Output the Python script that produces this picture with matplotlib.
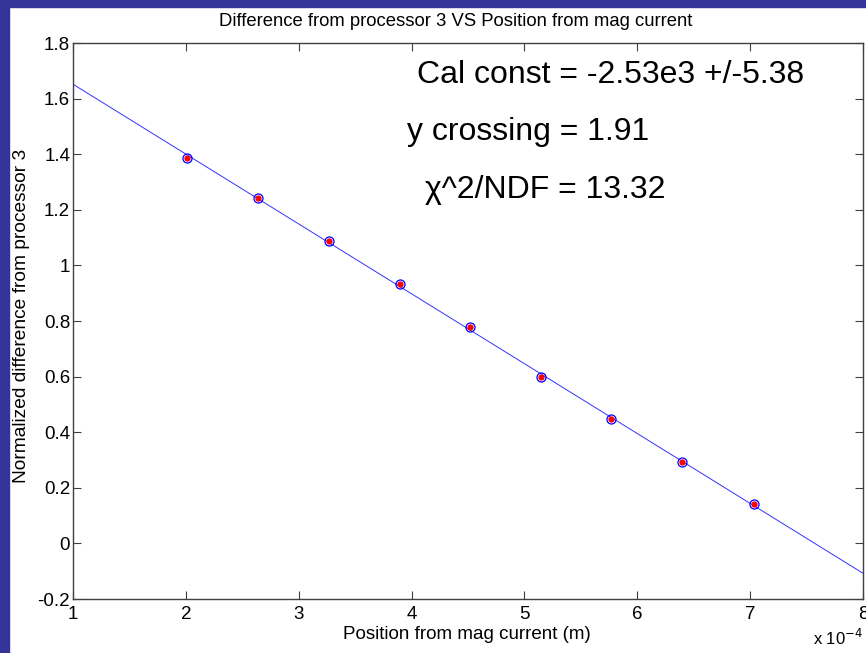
import numpy as np
import matplotlib
matplotlib.use('Agg')
import matplotlib.pyplot as plt
from matplotlib.ticker import FuncFormatter

plt.rcParams['font.family'] = ['Liberation Sans', 'DejaVu Sans']

# measured points (position in m, normalized difference)
pos_m = [2.01e-4, 2.64e-4, 3.27e-4, 3.90e-4, 4.52e-4, 5.15e-4, 5.77e-4, 6.40e-4, 7.03e-4]
diff_norm = [1.386, 1.242, 1.088, 0.933, 0.778, 0.599, 0.447, 0.293, 0.142]

# fit result
fit_slope = -2.513e3
fit_icept = 1.903
fit_x = [1e-4, 8e-4]

x_ticks = [1e-4, 2e-4, 3e-4, 4e-4, 5e-4, 6e-4, 7e-4, 8e-4]
y_ticks = [-0.2, 0, 0.2, 0.4, 0.6, 0.8, 1, 1.2, 1.4, 1.6, 1.8]

fig = plt.figure(figsize=(8.66, 6.53), dpi=100)
fig.patch.set_facecolor('white')
# blue slide frame
fig.patches.append(plt.Rectangle((0, 0), 9 / 866, 1, transform=fig.transFigure,
                                 color='#333399', zorder=0))
fig.patches.append(plt.Rectangle((0, 1 - 7 / 653), 1, 7 / 653, transform=fig.transFigure,
                                 color='#333399', zorder=0))

ax = fig.add_axes([73 / 866, 54 / 653, 790 / 866, 556 / 653])

fx = np.array(fit_x)
ax.plot(fx, fit_slope * fx + fit_icept, color='#0000ff', lw=0.7, alpha=0.8)
ax.plot(pos_m, diff_norm, 'o', ms=3.5, color='red', zorder=3)
ax.plot(pos_m, diff_norm, 'o', ms=6.5, mfc='none', mec='#0000ff', mew=0.9, zorder=4)

ax.set_xlim(1e-4, 8e-4)
ax.set_ylim(-0.2, 1.8)
ax.set_xticks(x_ticks)
ax.set_yticks(y_ticks)
ax.xaxis.set_major_formatter(FuncFormatter(lambda v, p: '%g' % round(v / 1e-4, 6)))
ax.yaxis.set_major_formatter(FuncFormatter(lambda v, p: '%g' % round(v, 6)))
ax.tick_params(direction='in', length=6, width=0.8, color='#404040',
               top=True, right=True, labelsize=13.5, pad=2)
ax.tick_params(axis='x', pad=5)
for s in ax.spines.values():
    s.set_color('#404040')
    s.set_linewidth(1.0)

ax.set_title('Difference from processor 3 VS Position from mag current', fontsize=13.3, x=0.484, pad=12)
ax.set_xlabel('Position from mag current (m)', fontsize=13.5)
ax.set_ylabel('Normalized difference from processor 3', fontsize=13.8)
ax.xaxis.set_label_coords(0.499, -0.049)
ax.yaxis.set_label_coords(-0.054, 0.51)

fig.text(813 / 866, 1 - 638 / 653, r'x 10$^{-4}$', fontsize=12, va='center', ha='left')

ax.text(4.05e-4, 1.685, 'Cal const = -2.53e3 +/-5.38', fontsize=23, va='center', ha='left')
ax.text(3.96e-4, 1.48, 'y crossing = 1.91', fontsize=23, va='center', ha='left')
ax.text(4.12e-4, 1.271, '\u03c7^2/NDF = 13.32', fontsize=23, va='center', ha='left')

fig.savefig('out.png', dpi=100)
